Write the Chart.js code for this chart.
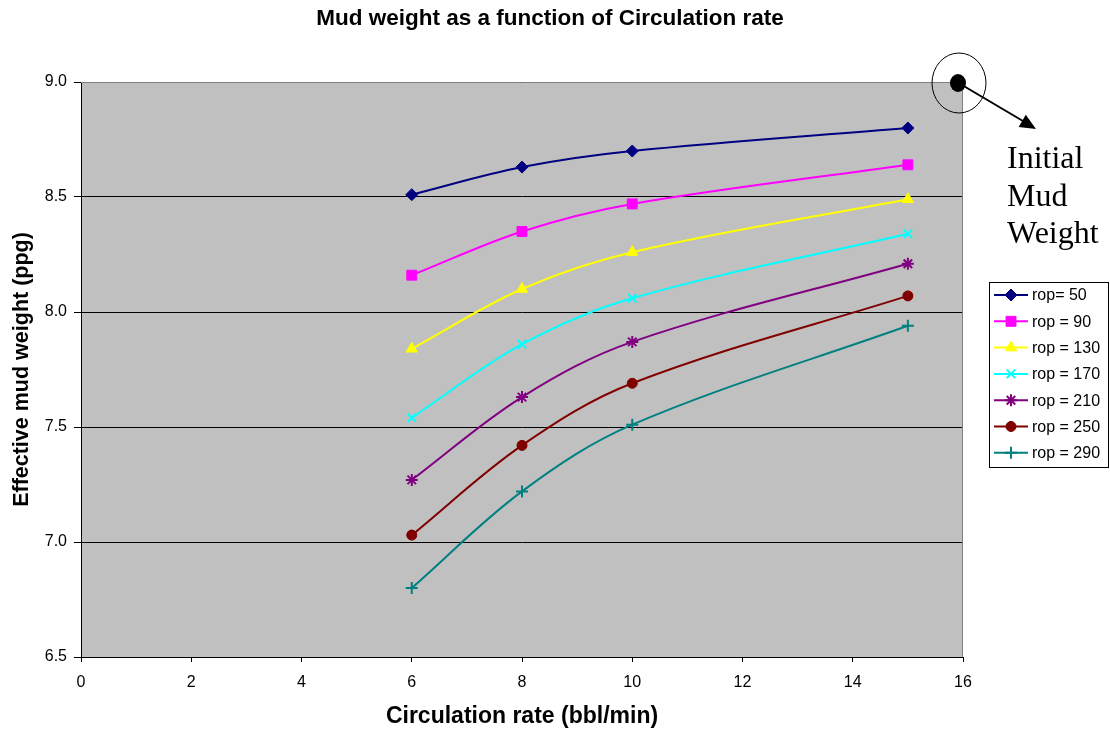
<!DOCTYPE html>
<html>
<head>
<meta charset="utf-8">
<script src="https://cdn.jsdelivr.net/npm/chart.js@4.4.1/dist/chart.umd.min.js"></script>
<style>
  html, body { margin: 0; padding: 0; background: #fff; }
  #wrap { width: 1110px; height: 730px; }
</style>
</head>
<body>
<div id="wrap"><canvas id="mudChart" width="1110" height="730"></canvas></div>
<script>
// circulation rate (bbl/min)
const rates = [6, 8, 10, 15];
const ropLabels = ['rop= 50', 'rop = 90', 'rop = 130', 'rop = 170', 'rop = 210', 'rop = 250', 'rop = 290'];
// effective mud weight (ppg) per rop
const rop50 = [8.51, 8.63, 8.70, 8.80];
const rop90 = [8.16, 8.35, 8.47, 8.64];
const rop130 = [7.84, 8.10, 8.26, 8.49];
const rop170 = [7.54, 7.86, 8.06, 8.34];
const rop210 = [7.27, 7.63, 7.87, 8.21];
const rop250 = [7.03, 7.42, 7.69, 8.07];
const rop290 = [6.80, 7.22, 7.51, 7.94];
const initialMudWeight = { x: 16, y: 9.0 };
const chartTitle = 'Mud weight as a function of Circulation rate';
const noteLines = ['Initial', 'Mud', 'Weight'];

const seriesValues = [rop50, rop90, rop130, rop170, rop210, rop250, rop290];
const colors = ['#000080', '#FF00FF', '#FFFF00', '#00FFFF', '#800080', '#800000', '#008080'];
const markers = ['rectRot', 'rect', 'triangle', 'crossRot', 'star', 'circle', 'cross'];
const markerSize = [6, 7, 6.5, 6, 6, 5, 6];
const markerLine = [1, 1, 1, 2, 2, 1, 2];

const datasets = seriesValues.map((vals, i) => ({
    label: ropLabels[i],
    data: vals.map((v, j) => ({ x: rates[j], y: v })),
    borderColor: colors[i],
    backgroundColor: colors[i],
    borderWidth: 2,
    pointStyle: markers[i],
    pointRadius: markerSize[i],
    pointBorderWidth: markerLine[i],
    tension: 0.35,
    fill: false
}));

const plotBackground = {
    id: 'plotBackground',
    beforeDraw(chart) {
        const { ctx, chartArea: a } = chart;
        ctx.save();
        ctx.fillStyle = '#C0C0C0';
        ctx.fillRect(a.left, a.top, a.right - a.left, a.bottom - a.top);
        ctx.restore();
    },
    afterDatasetsDraw(chart) {
        const { ctx, chartArea: a } = chart;
        ctx.save();
        ctx.strokeStyle = '#808080';
        ctx.lineWidth = 1;
        ctx.beginPath();
        ctx.moveTo(a.left, a.top + 0.5);
        ctx.lineTo(a.right - 0.5, a.top + 0.5);
        ctx.lineTo(a.right - 0.5, a.bottom);
        ctx.stroke();
        ctx.restore();
    }
};

const legendAndNote = {
    id: 'legendAndNote',
    afterDraw(chart) {
        const ctx = chart.ctx;
        ctx.save();
        // title
        ctx.fillStyle = '#000';
        ctx.font = 'bold 22.5px "Liberation Sans", Arial, sans-serif';
        ctx.textAlign = 'center';
        ctx.textBaseline = 'middle';
        ctx.fillText(chartTitle, 550, 19);

        // legend box
        const lx = 989, ly = 282, lw = 119, lh = 185;
        ctx.fillStyle = '#fff';
        ctx.fillRect(lx, ly, lw, lh);
        ctx.strokeStyle = '#000';
        ctx.lineWidth = 1;
        ctx.strokeRect(lx + 0.5, ly + 0.5, lw, lh);
        ctx.font = '16px "Liberation Sans", Arial, sans-serif';
        ctx.textBaseline = 'middle';
        ctx.textAlign = 'left';
        ropLabels.forEach((lab, i) => {
            const y = 295 + i * 26.3;
            ctx.strokeStyle = colors[i];
            ctx.lineWidth = 2;
            ctx.beginPath();
            ctx.moveTo(994, y);
            ctx.lineTo(1028, y);
            ctx.stroke();
            if (Chart.helpers && Chart.helpers.drawPoint) {
                ctx.fillStyle = colors[i];
                ctx.strokeStyle = colors[i];
                ctx.lineWidth = markerLine[i];
                Chart.helpers.drawPoint(ctx, { pointStyle: markers[i], radius: markerSize[i], rotation: 0, borderWidth: markerLine[i] }, 1011, y);
            }
            ctx.fillStyle = '#000';
            ctx.fillText(lab, 1032, y + 1);
        });

        // initial mud weight marker
        const xs = chart.scales.x, ys = chart.scales.y;
        const cx = xs.getPixelForValue(initialMudWeight.x) - 5;
        const cy = ys.getPixelForValue(initialMudWeight.y) + 1;
        ctx.strokeStyle = '#000';
        ctx.lineWidth = 1;
        ctx.beginPath();
        ctx.ellipse(cx + 1, cy, 27, 30, 0, 0, Math.PI * 2);
        ctx.stroke();
        ctx.fillStyle = '#000';
        ctx.beginPath();
        ctx.ellipse(cx, cy, 8, 9, 0, 0, Math.PI * 2);
        ctx.fill();
        // arrow
        const tx = 1036, ty = 129;
        ctx.lineWidth = 2;
        ctx.beginPath();
        ctx.moveTo(cx + 4, cy + 2);
        ctx.lineTo(tx - 8, ty - 5);
        ctx.stroke();
        const ang = Math.atan2(ty - cy, tx - cx);
        ctx.beginPath();
        ctx.moveTo(tx, ty);
        ctx.lineTo(tx - 16 * Math.cos(ang) + 7 * Math.sin(ang), ty - 16 * Math.sin(ang) - 7 * Math.cos(ang));
        ctx.lineTo(tx - 16 * Math.cos(ang) - 7 * Math.sin(ang), ty - 16 * Math.sin(ang) + 7 * Math.cos(ang));
        ctx.closePath();
        ctx.fill();
        // note text
        ctx.font = '32px "Liberation Serif", "Times New Roman", serif';
        ctx.textBaseline = 'alphabetic';
        noteLines.forEach((t, i) => ctx.fillText(t, 1007, 168 + i * 37.5));
        ctx.restore();
    }
};

Chart.defaults.font.family = '"Liberation Sans", Arial, sans-serif';
Chart.defaults.color = '#000';

new Chart(document.getElementById('mudChart'), {
    type: 'line',
    data: { datasets },
    options: {
        responsive: false,
        animation: false,
        layout: { padding: { left: 0, right: 147, top: 82, bottom: 0 } },
        plugins: {
            legend: { display: false },
            tooltip: { enabled: false },
            title: { display: false }
        },
        scales: {
            x: {
                type: 'linear',
                min: 0,
                max: 16,
                ticks: { stepSize: 2, font: { size: 16 }, padding: 11, color: '#000' },
                grid: { drawOnChartArea: false, color: '#000', tickLength: 5 },
                border: { color: '#000' },
                title: { display: true, text: 'Circulation rate (bbl/min)', font: { size: 23, weight: 'bold' }, color: '#000', padding: { top: 0, bottom: 0 } },
                afterFit(scale) { scale.height = 73; }
            },
            y: {
                min: 6.5,
                max: 9.0,
                ticks: { stepSize: 0.5, font: { size: 16 }, padding: 7, color: '#000', callback: v => v.toFixed(1) },
                grid: { color: '#000', tickLength: 7 },
                border: { color: '#000' },
                title: { display: true, text: 'Effective mud weight (ppg)', font: { size: 21.5, weight: 'bold' }, color: '#000', padding: { top: 9, bottom: 0 } },
                afterFit(scale) { scale.width = 81; }
            }
        }
    },
    plugins: [plotBackground, legendAndNote]
});
</script>
</body>
</html>
